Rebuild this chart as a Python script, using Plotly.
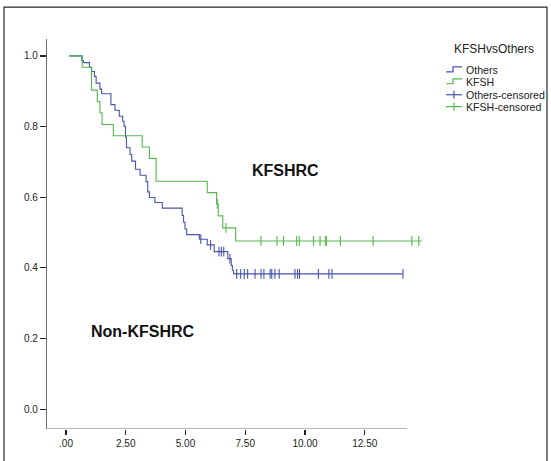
import plotly.graph_objects as go

# ---- data ----
others_t = [0.13, 0.66, 0.73, 0.98, 1.07, 1.19, 1.26, 1.42, 1.49, 1.88, 2.05, 2.23, 2.37, 2.43,
            2.49, 2.53, 2.68, 2.75, 2.91, 3.10, 3.35, 3.42, 3.49, 3.72, 4.03, 4.86, 4.92, 4.98,
            5.05, 5.58, 5.91, 6.20, 6.77, 6.91, 6.96, 7.01, 14.10]
others_s = [1.0, 0.987, 0.981, 0.968, 0.956, 0.942, 0.923, 0.906, 0.893, 0.862, 0.846, 0.829,
            0.815, 0.801, 0.770, 0.740, 0.721, 0.702, 0.679, 0.662, 0.644, 0.615, 0.599, 0.585,
            0.569, 0.548, 0.529, 0.510, 0.494, 0.481, 0.465, 0.446, 0.426, 0.407, 0.393, 0.383,
            0.383]
others_cens_t = [5.64, 6.05, 6.40, 6.50, 6.60, 6.86, 7.14, 7.31, 7.46, 7.60, 7.91, 8.16, 8.28,
                 8.54, 8.61, 8.74, 8.92, 9.58, 9.69, 9.77, 10.56, 11.00, 11.13, 14.10]
others_cens_s = [0.481, 0.465, 0.446, 0.446, 0.446, 0.426] + [0.383] * 18

kfsh_t = [0.13, 0.68, 1.07, 1.31, 1.42, 1.51, 1.98, 3.19, 3.49, 3.77, 5.91, 6.30, 6.37, 6.56,
          7.10, 14.88]
kfsh_s = [1.0, 0.968, 0.903, 0.871, 0.839, 0.806, 0.774, 0.742, 0.710, 0.645, 0.613, 0.581,
          0.547, 0.513, 0.476, 0.476]
kfsh_cens_t = [6.33, 6.69, 8.16, 8.83, 9.10, 9.65, 9.76, 10.36, 10.63, 10.85, 10.89, 11.48,
               12.85, 14.47, 14.76]
kfsh_cens_s = [0.581, 0.513] + [0.476] * 13

x_ticks = [0, 2.5, 5, 7.5, 10, 12.5]
x_tick_labels = [".00", "2.50", "5.00", "7.50", "10.00", "12.50"]
y_ticks = [0, 0.2, 0.4, 0.6, 0.8, 1.0]
y_tick_labels = ["0.0", "0.2", "0.4", "0.6", "0.8", "1.0"]

legend_title = "KFSHvsOthers"
legend_labels = ["Others", "KFSH", "Others-censored", "KFSH-censored"]

BLUE = "rgb(70,84,172)"
GREEN = "rgb(84,184,78)"
AXIS = "rgb(110,110,110)"
FONT = "Liberation Sans, Arial, sans-serif"

fig = go.Figure()
fig.add_trace(go.Scatter(x=others_t, y=others_s, mode="lines", line=dict(color=BLUE, width=1.1, shape="hv"),
                         showlegend=False, hoverinfo="skip"))
fig.add_trace(go.Scatter(x=kfsh_t, y=kfsh_s, mode="lines", line=dict(color=GREEN, width=1.1, shape="hv"),
                         showlegend=False, hoverinfo="skip"))
fig.add_trace(go.Scatter(x=others_cens_t, y=others_cens_s, mode="markers",
                         marker=dict(symbol="line-ns", size=7, line=dict(color=BLUE, width=1.1)),
                         showlegend=False, hoverinfo="skip"))
fig.add_trace(go.Scatter(x=kfsh_cens_t, y=kfsh_cens_s, mode="markers",
                         marker=dict(symbol="line-ns", size=7, line=dict(color=GREEN, width=1.1)),
                         showlegend=False, hoverinfo="skip"))

# pixel geometry of the plot area
L, R, T, B = 47, 425, 39, 431
W, H = 551, 461
x0 = (L - 66) / 23.9
x1 = (R - 66) / 23.9
y0 = (411 - B) / 355
y1 = (411 - T) / 355


def px(x):
    return (x - L) / (R - L)


def py(y):
    return (B - y) / (B - T)


shapes = []
# x-axis line (shorter than plot area)
shapes.append(dict(type="line", xref="x", yref="y", x0=x0, x1=(407 - 66) / 23.9, y0=y0, y1=y0,
                   line=dict(color=AXIS, width=1.2)))
# outer frame
shapes.append(dict(type="rect", xref="paper", yref="paper", x0=px(4), x1=px(547), y0=py(470), y1=py(7),
                   line=dict(color="rgb(40,40,40)", width=1.2), fillcolor="rgba(0,0,0,0)"))

annotations = []
# legend
annotations.append(dict(xref="paper", yref="paper", x=px(494), y=py(49), text=legend_title, showarrow=False,
                        xanchor="center", yanchor="middle", font=dict(family=FONT, size=12, color="#222")))
leg_y = [70, 82, 95, 107]
leg_cols = [BLUE, GREEN, BLUE, GREEN]
for i, (lab, col, yy) in enumerate(zip(legend_labels, leg_cols, leg_y)):
    if i < 2:
        shapes.append(dict(type="path", xref="paper", yref="paper",
                           path="M {a},{b} L {c},{b} L {c},{d} L {e},{d}".format(
                               a=px(446), b=py(yy + 2), c=px(453), d=py(yy - 3), e=px(462)),
                           line=dict(color=col, width=1.2)))
    else:
        shapes.append(dict(type="line", xref="paper", yref="paper", x0=px(446), x1=px(462),
                           y0=py(yy), y1=py(yy), line=dict(color=col, width=1.2)))
        shapes.append(dict(type="line", xref="paper", yref="paper", x0=px(454), x1=px(454),
                           y0=py(yy - 4), y1=py(yy + 4), line=dict(color=col, width=1.2)))
    annotations.append(dict(xref="paper", yref="paper", x=px(464), y=py(yy), text=lab, showarrow=False,
                            xanchor="left", yanchor="middle", font=dict(family=FONT, size=10.6, color="#222")))

annotations.append(dict(xref="paper", yref="paper", x=px(285), y=py(171), text="<b>KFSHRC</b>", showarrow=False,
                        xanchor="center", yanchor="middle", font=dict(family=FONT, size=16, color="#111")))
annotations.append(dict(xref="paper", yref="paper", x=px(143), y=py(333), text="<b>Non-KFSHRC</b>", showarrow=False,
                        xanchor="center", yanchor="middle", font=dict(family=FONT, size=16, color="#111")))

fig.update_layout(
    width=W, height=H,
    margin=dict(l=L, r=W - R, t=T, b=H - B, pad=0),
    paper_bgcolor="white", plot_bgcolor="white",
    showlegend=False,
    shapes=shapes, annotations=annotations,
    xaxis=dict(range=[x0, x1], tickvals=x_ticks, ticktext=x_tick_labels, showgrid=False, zeroline=False,
               showline=False, ticks="outside", ticklen=5, tickwidth=1.2, tickcolor="#222",
               tickfont=dict(family=FONT, size=10, color="#222")),
    yaxis=dict(range=[y0, y1], tickvals=y_ticks, ticktext=y_tick_labels, showgrid=False, zeroline=False,
               showline=True, linecolor=AXIS, linewidth=1.2, ticks="outside", ticklen=6, tickwidth=1.2,
               tickcolor="#222", tickfont=dict(family=FONT, size=10, color="#222")),
)

fig.write_html("out.html", config={"displayModeBar": False, "staticPlot": True},
               post_script="document.body.style.margin='0px';document.body.style.overflow='hidden';")
